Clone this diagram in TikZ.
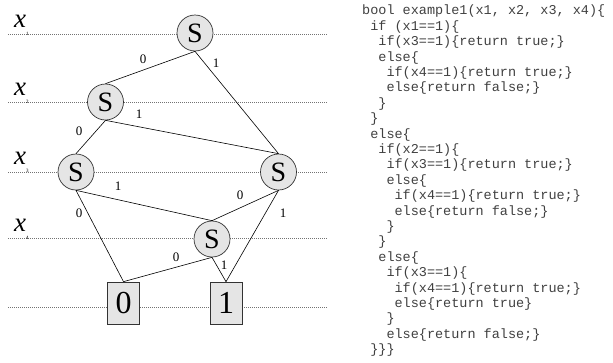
\documentclass[tikz,border=0pt]{standalone}
\usepackage{fontspec}
\setmainfont{Liberation Serif}
\setmonofont{Liberation Mono}
\newcommand{\ind}[1]{\hspace*{#1\dimexpr0.6em\relax}}
\tikzset{
    every node/.style={align=center,},
    decision/.style={draw=black!80,circle,fill=black!10,line width=0.7pt,
        minimum size=36pt,inner sep=0pt,font=\fontsize{28}{28}\selectfont},
    terminal/.style={draw=black!80,rectangle,fill=black!10,line width=0.7pt,
        minimum width=32pt,minimum height=42pt,inner sep=0pt,font=\fontsize{32}{32}\selectfont},
    guide/.style={draw=black!55,dash pattern=on 1pt off 1pt,line width=0.6pt},
    branchline/.style={draw=black,line width=0.6pt},
    edgelabel/.style={inner sep=0pt,font=\fontsize{13}{13}\selectfont},
    varname/.style={inner sep=0pt,anchor=base west,font=\fontsize{27}{27}\selectfont\itshape},
    listing/.style={align=left,inner sep=0pt,anchor=north west,text=black!75,
        font=\fontsize{13.5}{15.4}\selectfont\ttfamily},
}
\newcommand{\subidx}[1]{\raisebox{-8pt}{\fontsize{5}{5}\selectfont\upshape #1}}

\begin{document}
\begin{tikzpicture}[x=1pt,y=-1pt]
        \useasboundingbox (0,0) rectangle (613,362);

        % dotted level lines
        \foreach \yy/\nm in {34/1,102/2,172/3,238.5/4,307/5}{
            \coordinate (g\nm w) at (8,\yy);
            \coordinate (g\nm e) at (327,\yy);
            \draw[guide] (g\nm w) -- (g\nm e);
        }

        \node[varname] (x1) at (14,27) {x\subidx{1}};
        \node[varname] (x2) at (14,95) {x\subidx{2}};
        \node[varname] (x3) at (14,164) {x\subidx{3}};
        \node[varname] (x4) at (14,231) {x\subidx{4}};

        \node[decision] (s1) at (195,33) {S};
        \node[decision] (s2) at (105.5,102) {S};
        \node[decision] (s3a) at (76,172) {S};
        \node[decision] (s3b) at (278.5,172) {S};
        \node[decision] (s4) at (212,239) {S};

        \node[terminal] (zero) at (123.5,303) {0};
        \node[terminal] (one) at (226,303) {1};

        \draw[branchline] (s1.south) -- (s2.north);
        \draw[branchline] (s1.south) -- (s3b.north);
        \draw[branchline] (s2.south) -- (s3a.north);
        \draw[branchline] (s2.south) -- (s3b.north);
        \draw[branchline] (s3a.south) -- (zero.north);
        \draw[branchline] (s3a.south) -- (s4.north);
        \draw[branchline] (s3b.south) -- (s4.north);
        \draw[branchline] (s3b.south) -- (one.north);
        \draw[branchline] (s4.south) -- (zero.north);
        \draw[branchline] (s4.south) -- (one.north);

        \node[edgelabel] (e1) at (143,59) {0};
        \node[edgelabel] (e2) at (216,63) {1};
        \node[edgelabel] (e3) at (79,131) {0};
        \node[edgelabel] (e4) at (139,114) {1};
        \node[edgelabel] (e5) at (79,213) {0};
        \node[edgelabel] (e6) at (118,186) {1};
        \node[edgelabel] (e7) at (240,195) {0};
        \node[edgelabel] (e8) at (283,213) {1};
        \node[edgelabel] (e9) at (176,257) {0};
        \node[edgelabel] (e10) at (224,265) {1};

        \node[listing] (code) at (362,5) {bool example1(x1, x2, x3, x4)\{\\
\ind{1}if (x1==1)\{\\
\ind{2}if(x3==1)\{return true;\}\\
\ind{2}else\{\\
\ind{3}if(x4==1)\{return true;\}\\
\ind{3}else\{return false;\}\\
\ind{2}\}\\
\ind{1}\}\\
\ind{1}else\{\\
\ind{2}if(x2==1)\{\\
\ind{3}if(x3==1)\{return true;\}\\
\ind{3}else\{\\
\ind{4}if(x4==1)\{return true;\}\\
\ind{4}else\{return false;\}\\
\ind{3}\}\\
\ind{2}\}\\
\ind{2}else\{\\
\ind{3}if(x3==1)\{\\
\ind{4}if(x4==1)\{return true;\}\\
\ind{4}else\{return true\}\\
\ind{3}\}\\
\ind{3}else\{return false;\}\\
\ind{1}\}\}\}};
    \end{tikzpicture}
\end{document}
